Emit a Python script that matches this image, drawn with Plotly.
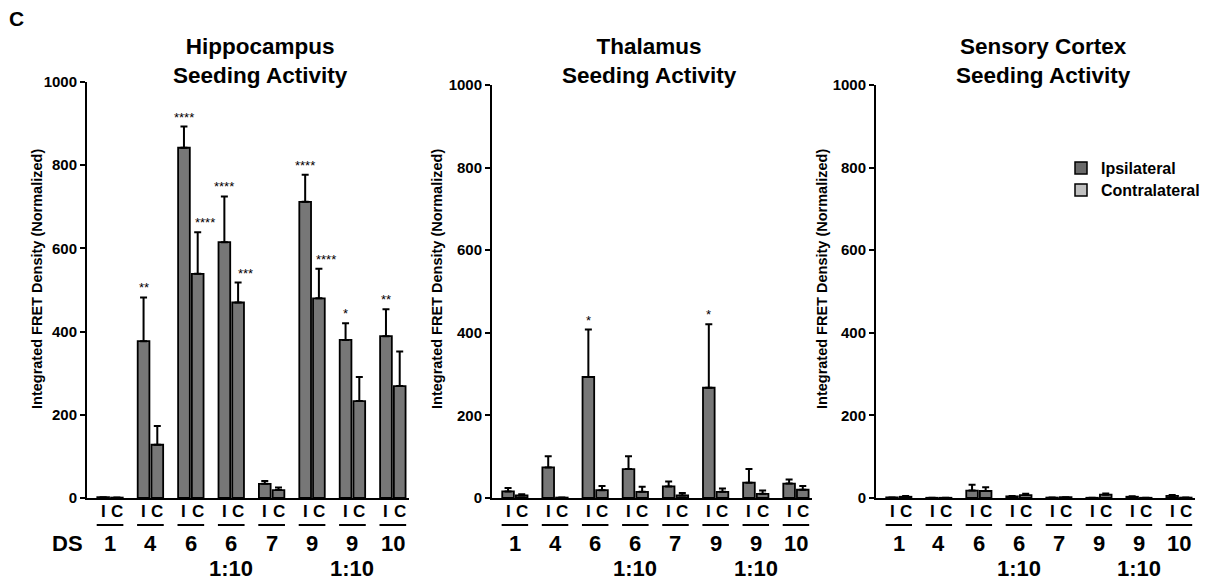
import plotly.graph_objects as go

# ---------------- data ----------------
groups = ["1", "4", "6", "6", "7", "9", "9", "10"]
dilution = ["", "", "", "1:10", "", "", "1:10", ""]

hippo_I = [2, 377, 842, 615, 34, 712, 380, 389]
hippo_I_sem = [0, 105, 51, 110, 7, 65, 40, 65]
hippo_C = [1, 128, 539, 470, 19, 480, 233, 269]
hippo_C_sem = [0, 45, 100, 48, 6, 71, 58, 83]
hippo_I_sig = ["", "**", "****", "****", "", "****", "*", "**"]
hippo_C_sig = ["", "", "****", "***", "", "****", "", ""]

thal_I = [16, 74, 293, 70, 28, 267, 37, 35]
thal_I_sem = [8, 27, 115, 31, 12, 154, 33, 10]
thal_C = [6, 1, 19, 15, 6, 15, 10, 20]
thal_C_sem = [3, 0, 10, 12, 6, 8, 8, 9]
thal_I_sig = ["", "", "*", "", "", "*", "", ""]
thal_C_sig = ["", "", "", "", "", "", "", ""]

ctx_I = [1.5, 0.5, 18, 4, 1, 0.5, 3, 5]
ctx_I_sem = [0, 0, 14, 1, 0, 0, 1, 2]
ctx_C = [3, 0.5, 17, 7, 2, 8, 0.5, 1]
ctx_C_sem = [2, 0, 9, 3, 0, 3, 0, 0]
ctx_I_sig = ["", "", "", "", "", "", "", ""]
ctx_C_sig = ["", "", "", "", "", "", "", ""]

titles = ["Hippocampus<br>Seeding Activity", "Thalamus<br>Seeding Activity",
          "Sensory Cortex<br>Seeding Activity"]
y_title = "Integrated FRET Density (Normalized)"
series_names = ["Ipsilateral", "Contralateral"]

# ---------------- style ----------------
W, H = 1207, 586
FONT = "Liberation Sans, Arial, Helvetica, sans-serif"
BAR = "#777777"
LEG_I = "#6a6a6a"
LEG_C = "#c0c0c0"

def px_x(p):
    return p / W

def px_y(p):
    return 1 - p / H

def bold(size):
    return dict(family=FONT, size=size, color="black", weight="bold")

# panel geometry in screen pixels (left, right, top(1000), bottom(0))
panels = [(87, 409, 82, 498), (492, 812, 85, 498), (876, 1195, 85, 498)]
title_cx = [260, 649, 1043]
ytitle_cx = [37, 437, 822]
xr = [-0.57, 7.4]

fig = go.Figure()
data = [
    (hippo_I, hippo_I_sem, hippo_C, hippo_C_sem, hippo_I_sig, hippo_C_sig),
    (thal_I, thal_I_sem, thal_C, thal_C_sem, thal_I_sig, thal_C_sig),
    (ctx_I, ctx_I_sem, ctx_C, ctx_C_sem, ctx_I_sig, ctx_C_sig),
]
xs = list(range(len(groups)))
BW = 0.29
OFF_I = -0.315
OFF_C = 0.025

annotations = []
shapes = []
for k, (vi, si, vc, sc, sigi, sigc) in enumerate(data):
    sfx = "" if k == 0 else str(k + 1)
    xa, ya = "x" + sfx, "y" + sfx
    for vals, sems, off in ((vi, si, OFF_I), (vc, sc, OFF_C)):
        fig.add_trace(go.Bar(
            x=xs, y=vals, width=BW, offset=off,
            marker=dict(color=BAR, line=dict(color="black", width=1.8)),
            error_y=dict(type="data", symmetric=False, array=sems,
                         arrayminus=[0] * len(sems), color="black",
                         thickness=2, width=3.5),
            xaxis=xa, yaxis=ya, showlegend=False, hoverinfo="skip"))
    # significance stars
    for i in xs:
        for sig, vals, sems, off, xsh in ((sigi, vi, si, OFF_I, 0), (sigc, vc, sc, OFF_C, 7)):
            if sig[i]:
                annotations.append(dict(
                    x=i + off + BW / 2, y=vals[i] + sems[i], xref=xa, yref=ya,
                    text=sig[i], showarrow=False, xanchor="center", yanchor="bottom",
                    xshift=xsh, yshift=0,
                    font=dict(family=FONT, size=13, color="black")))
    # axis configuration
    l, r, t, b = panels[k]
    fig.layout["xaxis" + sfx] = dict(
        domain=[px_x(l), px_x(r)], range=xr, anchor=ya, automargin=False,
        showline=True, linecolor="black", linewidth=2, ticks="",
        showticklabels=False, showgrid=False, zeroline=False, fixedrange=True)
    fig.layout["yaxis" + sfx] = dict(
        domain=[px_y(b), px_y(t)], range=[0, 1000], anchor=xa, automargin=False,
        showline=True, linecolor="black", linewidth=2, ticks="outside",
        ticklen=5, tickwidth=2, tickcolor="black",
        tickvals=[0, 200, 400, 600, 800, 1000],
        tickfont=bold(15),
        showgrid=False, zeroline=False, fixedrange=True)
    # category labels under axis
    for i in xs:
        annotations.append(dict(x=i + OFF_I + BW / 2, y=px_y(511), xref=xa, yref="paper",
                                text="I", showarrow=False, xanchor="center",
                                yanchor="middle", font=bold(17)))
        annotations.append(dict(x=i + OFF_C + BW / 2, y=px_y(511), xref=xa, yref="paper",
                                text="C", showarrow=False, xanchor="center",
                                yanchor="middle", font=bold(17)))
        annotations.append(dict(x=i, y=px_y(543), xref=xa, yref="paper",
                                text=groups[i], showarrow=False, xanchor="center",
                                yanchor="middle", font=bold(22)))
        if dilution[i]:
            annotations.append(dict(x=i, y=px_y(568), xref=xa, yref="paper",
                                    text=dilution[i], showarrow=False, xanchor="center",
                                    yanchor="middle", font=bold(22)))
        shapes.append(dict(type="line", xref=xa, yref="paper",
                           x0=i - 0.33, x1=i + 0.33, y0=px_y(525), y1=px_y(525),
                           line=dict(color="black", width=2)))
    # panel title
    annotations.append(dict(x=px_x(title_cx[k]), y=px_y(61), xref="paper", yref="paper",
                            text=titles[k], showarrow=False, align="center",
                            xanchor="center", yanchor="middle", font=bold(22.5)))
    # y title
    annotations.append(dict(x=px_x(ytitle_cx[k]), y=px_y(279), xref="paper", yref="paper",
                            text=y_title, showarrow=False, textangle=-90,
                            xanchor="center", yanchor="middle", font=bold(14.5)))

# "DS" label and panel letter
annotations.append(dict(x=px_x(67), y=px_y(543), xref="paper", yref="paper", text="DS",
                        showarrow=False, xanchor="center", yanchor="middle", font=bold(22)))
annotations.append(dict(x=px_x(16), y=px_y(18), xref="paper", yref="paper", text="C",
                        showarrow=False, xanchor="center", yanchor="middle", font=bold(21)))

# legend entries (one legend box per entry for exact spacing)
legend_ids = ["legend", "legend2"]
legend_rows = [168, 190]
for name, col, lid in zip(series_names, (LEG_I, LEG_C), legend_ids):
    fig.add_trace(go.Bar(x=[None], y=[None], name=name, xaxis="x3", yaxis="y3",
                         legend=lid,
                         marker=dict(color=col, line=dict(color="black", width=1.5)),
                         showlegend=True))

legend_common = dict(xanchor="left", yanchor="middle", bgcolor="rgba(0,0,0,0)",
                     font=bold(16), borderwidth=0)

fig.update_layout(
    width=W, height=H, autosize=False,
    margin=dict(l=0, r=0, t=0, b=0, autoexpand=False),
    paper_bgcolor="white", plot_bgcolor="white",
    barmode="overlay",
    showlegend=True,
    legend=dict(x=px_x(1061), y=px_y(legend_rows[0]), **legend_common),
    legend2=dict(x=px_x(1061), y=px_y(legend_rows[1]), **legend_common),
    annotations=annotations, shapes=shapes,
)

fig.write_html(
    "out.html",
    config={"displayModeBar": False},
    post_script="document.body.style.margin='0';document.body.style.overflow='hidden';",
)
